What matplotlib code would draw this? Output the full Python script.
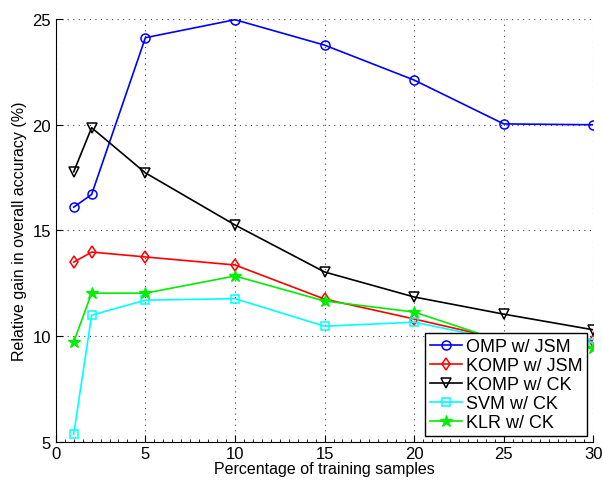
import numpy as np
import matplotlib.pyplot as plt
from matplotlib.ticker import MultipleLocator

plt.rcParams['font.family'] = ['Liberation Sans', 'DejaVu Sans']

# training set size (%)
pct = [1, 2, 5, 10, 15, 20, 25, 30]

# relative gain in overall accuracy (%)
omp_jsm = [16.1, 16.7, 24.1, 24.95, 23.75, 22.1, 20.03, 19.99]
komp_jsm = [13.5, 13.98, 13.75, 13.37, 11.76, 10.82, 9.85, 9.79]
komp_ck = [17.77, 19.85, 17.72, 15.26, 13.04, 11.86, 11.05, 10.31]
svm_ck = [5.38, 11.0, 11.71, 11.78, 10.48, 10.67, 9.8, 9.71]
klr_ck = [9.73, 12.04, 12.04, 12.85, 11.67, 11.15, 9.75, 9.44]

fig = plt.figure(figsize=(6.03, 4.85), dpi=100)
ax = fig.add_axes([0.0925, 0.086, 0.8915, 0.8735])

ms = 6.5
ax.plot(pct, omp_jsm, color='#0000ff', lw=1.2, marker='o', ms=ms, mfc='none', mew=1.1, label='OMP w/ JSM')
ax.plot(pct, komp_jsm, color='#ff0000', lw=1.2, marker='d', ms=ms, mfc='none', mew=1.1, label='KOMP w/ JSM')
ax.plot(pct, komp_ck, color='black', lw=1.2, marker='v', ms=ms, mfc='none', mew=1.1, label='KOMP w/ CK')
ax.plot(pct, svm_ck, color='#00ffff', lw=1.2, marker='s', ms=5.5, mfc='none', mew=1.1, label='SVM w/ CK')
ax.plot(pct, klr_ck, color='#00ee00', lw=1.2, marker='*', ms=9, mfc='#00ee00', mew=1.0, label='KLR w/ CK')

ax.set_xlim(0, 30)
ax.set_ylim(5, 25)
ax.set_xticks([0, 5, 10, 15, 20, 25, 30])
ax.set_yticks([5, 10, 15, 20, 25])
ax.xaxis.set_minor_locator(MultipleLocator(0.5))
ax.tick_params(which='both', direction='in', labelsize=12, top=False, right=False)
ax.tick_params(which='major', length=5)
ax.tick_params(which='minor', length=2.5)
ax.tick_params(axis='x', pad=3)

ax.grid(True, which='major', linestyle=(0, (1, 4)), color='#444444', lw=0.8)
ax.spines['top'].set_visible(False)
ax.spines['right'].set_visible(False)

ax.set_xlabel('Percentage of training samples', fontsize=11.5, labelpad=0)
ax.set_ylabel('Relative gain in overall accuracy (%)', fontsize=11.5, labelpad=4)

leg = ax.legend(loc='lower right', bbox_to_anchor=(587 / 603, 48 / 485),
                bbox_transform=fig.transFigure, fontsize=13, fancybox=False,
                framealpha=1, edgecolor='black', borderpad=0.25, labelspacing=0.12,
                handlelength=1.8, handletextpad=0.2, borderaxespad=0)
leg.get_frame().set_linewidth(1.0)
leg.set_zorder(5)

fig.savefig('out.png', dpi=100)
